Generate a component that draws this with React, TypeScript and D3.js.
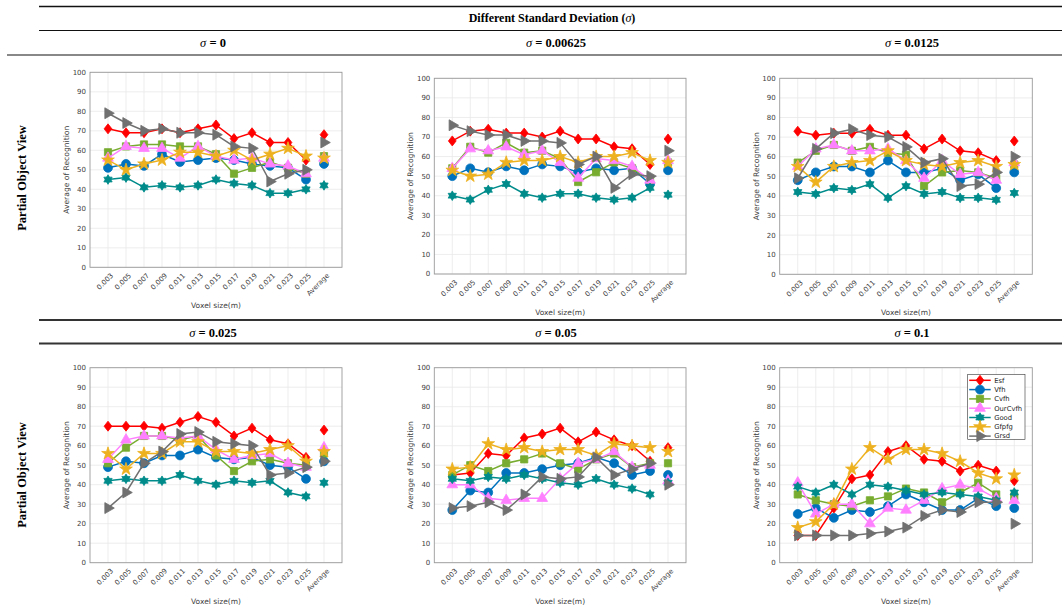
import React from 'react';
import * as d3 from 'd3';

const categories = ['0.003', '0.005', '0.007', '0.009', '0.011', '0.013', '0.015', '0.017', '0.019', '0.021', '0.023', '0.025', 'Average'];
const methods = ['Esf', 'Vfh', 'Cvfh', 'OurCvfh', 'Good', 'Gfpfg', 'Grsd'];
const methodColors = ['#FF0000', '#0072BD', '#77AC30', '#FF80FF', '#008B8B', '#EDB120', '#707070'];
const sigmaLabels = ['0', '0.00625', '0.0125', '0.025', '0.05', '0.1'];
const yTicks = [0, 10, 20, 30, 40, 50, 60, 70, 80, 90, 100];

// rows: Esf, Vfh, Cvfh, OurCvfh, Good, Gfpfg, Grsd ; last value = Average
const sigma0 = [
  [71, 69, 69, 71, 69, 71, 73, 66, 69, 64, 64, 55, 68],
  [51, 53, 52, 58, 54, 55, 56, 55, 53, 52, 51, 45, 53],
  [59, 62, 63, 63, 62, 62, 58, 48, 51, 54, 51, 48, 57],
  [56, 62, 61, 61, 56, 62, 57, 55, 56, 53, 52, 48, 56],
  [45, 46, 41, 42, 41, 42, 45, 43, 42, 38, 38, 40, 42],
  [55, 50, 53, 55, 59, 59, 57, 60, 55, 58, 61, 57, 56],
  [79, 74, 70, 71, 69, 69, 68, 62, 61, 44, 48, 50, 64],
];
const sigma00625 = [
  [68, 73, 74, 72, 72, 70, 73, 69, 69, 65, 64, 56, 69],
  [50, 54, 52, 55, 53, 56, 55, 52, 54, 53, 54, 46, 53],
  [54, 65, 62, 67, 62, 63, 59, 47, 52, 57, 54, 48, 57],
  [54, 64, 63, 65, 61, 63, 57, 49, 59, 58, 55, 48, 58],
  [40, 38, 43, 46, 41, 39, 41, 41, 39, 38, 39, 44, 40.5],
  [53, 50, 51, 57, 58, 58, 60, 57, 60, 60, 62, 58, 57],
  [76, 73, 71, 71, 68, 68, 67, 56, 60, 44, 51, 50, 63],
];
const sigma0125 = [
  [73, 71, 72, 72, 74, 71, 71, 64, 69, 63, 62, 58, 68],
  [48, 52, 55, 55, 52, 58, 52, 52, 54, 48, 51, 44, 52],
  [57, 63, 66, 63, 65, 62, 61, 45, 52, 53, 52, 49, 56],
  [55, 64, 66, 63, 63, 64, 58, 49, 58, 51, 52, 48, 57],
  [42, 41, 44, 43, 46, 39, 45, 41, 42, 39, 39, 38, 41.5],
  [55, 47, 55, 57, 58, 63, 58, 56, 55, 57, 58, 55, 56],
  [49, 64, 72, 74, 71, 70, 65, 57, 59, 45, 46, 52, 60],
];
const sigma025 = [
  [70, 70, 70, 69, 72, 75, 72, 65, 69, 63, 61, 54, 68],
  [49, 52, 51, 55, 55, 58, 54, 53, 54, 50, 49, 43, 52],
  [51, 59, 65, 65, 63, 65, 55, 47, 52, 53, 51, 50, 56],
  [53, 63, 65, 65, 64, 65, 58, 53, 55, 56, 51, 49, 59],
  [42, 43, 42, 42, 45, 42, 40, 42, 41, 42, 36, 34, 41],
  [56, 48, 56, 56, 62, 62, 57, 57, 56, 58, 60, 52, 57],
  [28, 36, 51, 57, 66, 67, 62, 61, 60, 45, 46, 49, 52],
];
const sigma05 = [
  [45, 46, 56, 55, 64, 66, 69, 62, 67, 63, 60, 52, 59],
  [27, 37, 36, 46, 46, 48, 50, 51, 54, 51, 45, 47, 45],
  [45, 50, 47, 51, 53, 56, 51, 48, 53, 56, 49, 51, 51],
  [40, 40, 33, 32, 33, 33, 43, 51, 53, 57, 49, 50, 42],
  [43, 42, 44, 43, 45, 43, 41, 40, 43, 40, 38, 35, 41],
  [48, 49, 61, 58, 59, 57, 58, 58, 55, 61, 60, 59, 57],
  [28, 29, 31, 27, 35, 44, 43, 44, 54, 45, 48, 51, 40],
];
const sigma1 = [
  [14, 14, 28, 43, 45, 57, 60, 53, 52, 47, 50, 47, 42],
  [25, 28, 23, 27, 26, 29, 35, 31, 27, 27, 33, 29, 28],
  [35, 32, 30, 29, 32, 34, 38, 36, 31, 36, 41, 35, 34],
  [41, 25, 30, 30, 20, 28, 27, 32, 38, 40, 38, 33, 32],
  [39, 36, 40, 35, 40, 39, 37, 35, 36, 35, 34, 32, 36],
  [18, 21, 30, 48, 59, 53, 58, 58, 56, 52, 46, 43, 45],
  [14, 14, 14, 14, 15, 16, 18, 24, 27, 26, 31, 31, 20],
];
const panelData = [sigma0, sigma00625, sigma0125, sigma025, sigma05, sigma1];

const boxes = [
  { l: 90, r: 342, t: 72.3, b: 267.3 },
  { l: 434.3, r: 686, t: 78.3, b: 274 },
  { l: 779.7, r: 1032.3, t: 78.3, b: 274.3 },
  { l: 90, r: 342, t: 367.7, b: 562.7 },
  { l: 434.3, r: 686, t: 367.7, b: 562.7 },
  { l: 779.7, r: 1032.3, t: 367.7, b: 562.7 },
];

const sansFont = '"DejaVu Sans", sans-serif';
const serifFont = '"Liberation Serif", serif';

function hexagram(r: number) {
  const pts = (off: number) =>
    d3.range(3).map((i) => {
      const a = off + (i * 2 * Math.PI) / 3;
      return [r * Math.sin(a), -r * Math.cos(a)];
    });
  const t1 = pts(0);
  const t2 = pts(Math.PI);
  const p = (t: number[][]) => 'M' + t.map((q) => q[0].toFixed(2) + ',' + q[1].toFixed(2)).join('L') + 'Z';
  return p(t1) + p(t2);
}

function diamond(hw: number, hh: number) {
  const p = d3.path();
  p.moveTo(0, -hh);
  p.lineTo(hw, 0);
  p.lineTo(0, hh);
  p.lineTo(-hw, 0);
  p.closePath();
  return p.toString();
}

function markerPath(i: number): { d: string; rot: number } {
  switch (i) {
    case 0:
      return { d: diamond(3.9, 5), rot: 0 };
    case 1:
      return { d: d3.symbol(d3.symbolCircle, 62)() as string, rot: 0 };
    case 2:
      return { d: d3.symbol(d3.symbolSquare, 52)() as string, rot: 0 };
    case 3:
      return { d: d3.symbol(d3.symbolTriangle, 50)() as string, rot: 0 };
    case 4:
      return { d: hexagram(4.8), rot: 0 };
    case 5:
      return { d: d3.symbol(d3.symbolStar, 50)() as string, rot: 0 };
    default:
      return { d: d3.symbol(d3.symbolTriangle, 52)() as string, rot: 90 };
  }
}

function Marker({ i, x, y }: { i: number; x: number; y: number }) {
  const m = markerPath(i);
  return (
    <path
      d={m.d}
      transform={`translate(${x},${y}) rotate(${m.rot})`}
      fill={methodColors[i]}
      stroke={methodColors[i]}
      strokeWidth={0.8}
    />
  );
}

function Panel({ idx }: { idx: number }) {
  const bx = boxes[idx];
  const data = panelData[idx];
  const x = d3.scaleLinear().domain([0, 14]).range([bx.l, bx.r]);
  const y = d3.scaleLinear().domain([0, 100]).range([bx.b, bx.t]);
  const line = d3
    .line<number>()
    .x((_, j) => x(j + 1))
    .y((v) => y(v));
  return (
    <g>
      <rect x={bx.l} y={bx.t} width={bx.r - bx.l} height={bx.b - bx.t} fill="#fff" />
      {yTicks.map((t) => (
        <line key={'gy' + t} x1={bx.l} x2={bx.r} y1={y(t)} y2={y(t)} stroke="#e8e8e8" strokeWidth={0.8} />
      ))}
      {categories.map((c, j) => (
        <line key={'gx' + c} x1={x(j + 1)} x2={x(j + 1)} y1={bx.t} y2={bx.b} stroke="#e8e8e8" strokeWidth={0.8} />
      ))}
      <rect x={bx.l} y={bx.t} width={bx.r - bx.l} height={bx.b - bx.t} fill="none" stroke="#9a9a9a" strokeWidth={0.9} />
      {yTicks.map((t) => (
        <text
          key={'yl' + t}
          x={bx.l - 4}
          y={y(t)}
          dy="0.35em"
          textAnchor="end"
          fontSize={7}
          fontFamily={sansFont}
          fill="#404040"
        >
          {t}
        </text>
      ))}
      {categories.map((c, j) => (
        <text
          key={'xl' + c}
          transform={`translate(${x(j + 1) + 4},${bx.b + 7}) rotate(-45)`}
          textAnchor="end"
          fontSize={7}
          fontFamily={sansFont}
          fill="#404040"
          dy="0.35em"
        >
          {c}
        </text>
      ))}
      <text
        x={(bx.l + bx.r) / 2}
        y={bx.b + 41}
        textAnchor="middle"
        fontSize={7.5}
        fontFamily={sansFont}
        fill="#404040"
      >
        Voxel size(m)
      </text>
      <text
        transform={`translate(${bx.l - 21},${(bx.t + bx.b) / 2}) rotate(-90)`}
        textAnchor="middle"
        fontSize={7.6}
        fontFamily={sansFont}
        fill="#404040"
      >
        Average of Recognition
      </text>
      {data.map((row, i) => (
        <g key={'s' + i}>
          <path d={line(row.slice(0, 12)) as string} fill="none" stroke={methodColors[i]} strokeWidth={1.5} />
          {row.map((v, j) => (
            <Marker key={j} i={i} x={x(j + 1)} y={y(v)} />
          ))}
        </g>
      ))}
    </g>
  );
}

function Legend() {
  const lx = 967.7;
  const ly = 374.3;
  return (
    <g>
      <rect x={lx} y={ly} width={57.3} height={65} fill="#fff" stroke="#333" strokeWidth={0.6} />
      {methods.map((m, i) => {
        const yy = ly + 6 + i * 9.3;
        return (
          <g key={m}>
            <line x1={lx + 1.5} x2={lx + 23} y1={yy} y2={yy} stroke={methodColors[i]} strokeWidth={1.5} />
            <Marker i={i} x={lx + 12.3} y={yy} />
            <text x={lx + 26.5} y={yy} dy="0.35em" fontSize={6.8} fontFamily={sansFont} fill="#222">
              {m}
            </text>
          </g>
        );
      })}
    </g>
  );
}

function SigmaHeader({ x, y, label }: { x: number; y: number; label: string }) {
  return (
    <text x={x} y={y} textAnchor="middle" fontSize={12.5} fontWeight="bold" fontFamily={serifFont} fill="#000">
      <tspan fontStyle="italic" fontWeight="normal">σ</tspan>
      {' = ' + label}
    </text>
  );
}

export default function App() {
  const headerX = [213, 556, 912];
  return (
    <svg
      width={1062}
      height={607}
      style={{ position: 'absolute', left: 0, top: 0, background: '#fff' }}
    >
      <rect x={0} y={0} width={1062} height={607} fill="#fff" />
      <line x1={39} x2={1062} y1={6.5} y2={6.5} stroke="#111" strokeWidth={1.5} />
      <text x={552} y={22} textAnchor="middle" fontSize={12} fontWeight="bold" fontFamily={serifFont}>
        Different Standard Deviation (<tspan fontStyle="italic" fontWeight="normal">σ</tspan>)
      </text>
      <line x1={39} x2={1062} y1={30.5} y2={30.5} stroke="#111" strokeWidth={1.2} />
      {[0, 1, 2].map((k) => (
        <SigmaHeader key={k} x={headerX[k]} y={46.5} label={sigmaLabels[k]} />
      ))}
      <line x1={7} x2={1062} y1={55} y2={55} stroke="#888" strokeWidth={2.2} />
      <line x1={39} x2={1062} y1={320} y2={320} stroke="#333" strokeWidth={1.8} />
      {[3, 4, 5].map((k) => (
        <SigmaHeader key={k} x={headerX[k - 3]} y={337} label={sigmaLabels[k]} />
      ))}
      <line x1={39} x2={1062} y1={343.5} y2={343.5} stroke="#333" strokeWidth={1.8} />
      {[178, 475].map((cy) => (
        <text
          key={cy}
          transform={`translate(26,${cy}) rotate(-90)`}
          textAnchor="middle"
          fontSize={12.5}
          fontWeight="bold"
          fontFamily={serifFont}
        >
          Partial Object View
        </text>
      ))}
      {boxes.map((_, i) => (
        <Panel key={i} idx={i} />
      ))}
      <Legend />
    </svg>
  );
}
